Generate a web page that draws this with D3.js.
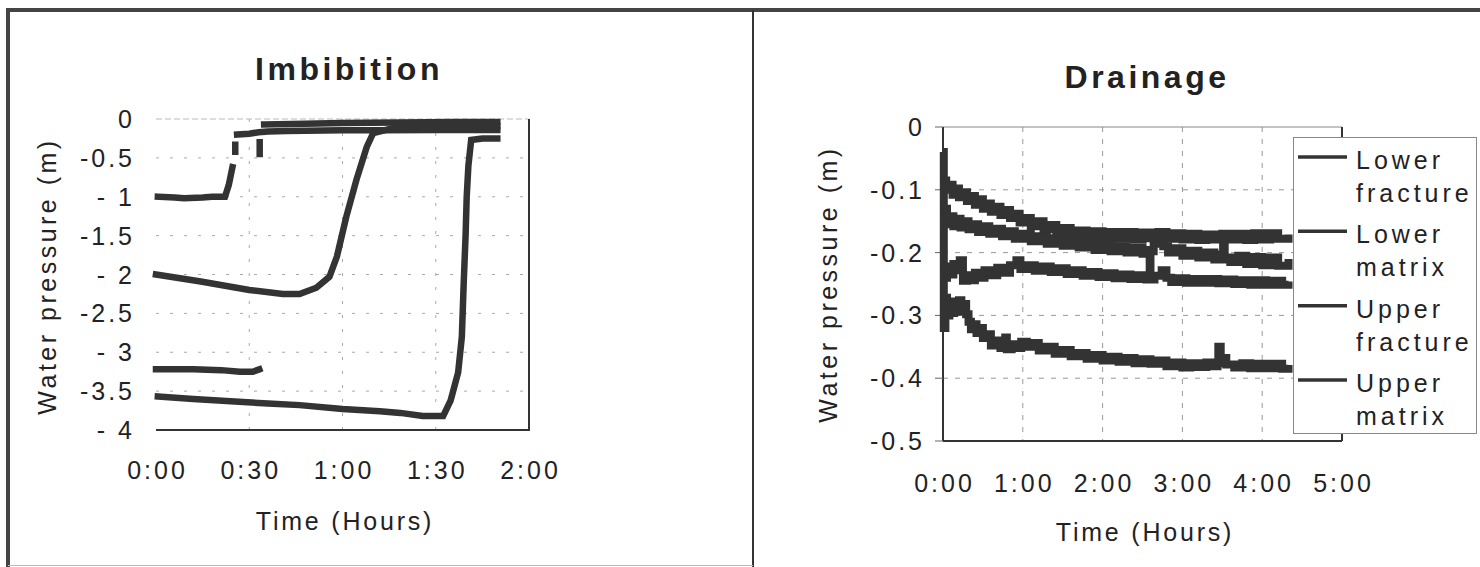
<!DOCTYPE html>
<html><head><meta charset="utf-8">
<script src="https://cdn.jsdelivr.net/npm/d3@7/dist/d3.min.js"></script>
<style>
html,body{margin:0;padding:0;background:#fff;}
svg{display:block;}
text{font-family:"Liberation Sans",Arial,Helvetica,sans-serif;fill:#222;}
</style></head>
<body>
<svg id="c" width="1480" height="567"></svg>
<script>
// ---------- DATA ----------
// Imbibition (time in hours, water pressure in m)
const imbTicksX = [0, 0.5, 1, 1.5, 2];
const imbTicksY = [0, -0.5, -1, -1.5, -2, -2.5, -3, -3.5, -4];
const imbTickLabelsY = ["0", "-0.5", "- 1", "-1.5", "- 2", "-2.5", "- 3", "-3.5", "- 4"];
const imbSeries1 = [[0.01,-1.0],[0.1,-1.01],[0.15,-1.02],[0.25,-1.01],[0.3,-1.0],[0.37,-1.0],[0.39,-0.85],[0.41,-0.62],null,[0.425,-0.42],[0.425,-0.33],null,[0.435,-0.2],[0.5,-0.19],[0.55,-0.17],[0.6,-0.16],[0.7,-0.155],[0.8,-0.15],[1.0,-0.145],[1.2,-0.145],[1.5,-0.14],[1.83,-0.14]];
const imbSeries2 = [[0,-2.0],[0.24,-2.09],[0.5,-2.2],[0.68,-2.25],[0.77,-2.25],[0.86,-2.17],[0.93,-2.03],[0.97,-1.77],[1.02,-1.26],[1.075,-0.78],[1.13,-0.36],[1.165,-0.18],[1.3,-0.1],[1.5,-0.1],[1.83,-0.09]];
const imbSeries3 = [[0,-3.22],[0.2,-3.22],[0.35,-3.23],[0.45,-3.25],[0.52,-3.25],[0.554,-3.22],null,[0.556,-0.45],[0.556,-0.3],null,[0.58,-0.07],[0.8,-0.06],[1.0,-0.05],[1.3,-0.045],[1.6,-0.04],[1.83,-0.04]];
const imbSeries4 = [[0.01,-3.57],[0.2,-3.6],[0.4,-3.63],[0.6,-3.66],[0.77,-3.68],[1.0,-3.73],[1.2,-3.76],[1.31,-3.78],[1.43,-3.82],[1.54,-3.82],[1.58,-3.62],[1.62,-3.26],[1.64,-2.8],[1.65,-2.1],[1.66,-1.5],[1.666,-1.0],[1.675,-0.6],[1.69,-0.27],[1.75,-0.25],[1.83,-0.25]];

// Drainage
const drnTicksX = [0, 1, 2, 3, 4, 5];
const drnTicksY = [0, -0.1, -0.2, -0.3, -0.4, -0.5];
const drnTickLabelsY = ["0", "-0.1", "-0.2", "-0.3", "-0.4", "-0.5"];
const legendNames = [["Lower","fracture"],["Lower","matrix"],["Upper","fracture"],["Upper","matrix"]];
const lowerFracture = [[0,-0.085],[0.04,-0.1],[0.08,-0.092],[0.12,-0.108],[0.16,-0.098],[0.2,-0.112],[0.25,-0.104],[0.3,-0.118],[0.35,-0.11],[0.4,-0.124],[0.45,-0.115],[0.5,-0.13],[0.55,-0.122],[0.6,-0.135],[0.66,-0.127],[0.72,-0.14],[0.78,-0.132],[0.84,-0.145],[0.9,-0.138],[0.96,-0.152],[1.02,-0.145],[1.1,-0.158],[1.18,-0.15],[1.26,-0.163],[1.34,-0.156],[1.42,-0.168],[1.5,-0.161],[1.6,-0.172],[1.7,-0.165],[1.8,-0.175],[1.9,-0.166],[2.0,-0.177],[2.1,-0.167],[2.2,-0.178],[2.3,-0.167],[2.4,-0.179],[2.5,-0.168],[2.6,-0.177],[2.7,-0.167],[2.8,-0.178],[2.9,-0.169],[3.0,-0.179],[3.1,-0.17],[3.2,-0.18],[3.3,-0.171],[3.4,-0.179],[3.5,-0.17],[3.6,-0.179],[3.7,-0.17],[3.8,-0.18],[3.9,-0.169],[4.0,-0.179],[4.1,-0.169],[4.2,-0.178],[4.33,-0.171]];
const lowerMatrix = [[0.02,-0.13],[0.05,-0.155],[0.09,-0.142],[0.13,-0.158],[0.17,-0.146],[0.22,-0.16],[0.27,-0.15],[0.32,-0.163],[0.38,-0.155],[0.44,-0.167],[0.5,-0.158],[0.58,-0.17],[0.66,-0.162],[0.74,-0.174],[0.82,-0.166],[0.9,-0.178],[1.0,-0.17],[1.1,-0.182],[1.2,-0.174],[1.3,-0.186],[1.4,-0.177],[1.5,-0.189],[1.6,-0.18],[1.7,-0.192],[1.8,-0.183],[1.9,-0.196],[2.0,-0.186],[2.1,-0.198],[2.2,-0.19],[2.3,-0.2],[2.4,-0.192],[2.5,-0.202],[2.58,-0.196],[2.59,-0.233],[2.6,-0.198],[2.64,-0.186],[2.7,-0.182],[2.76,-0.19],[2.82,-0.2],[2.9,-0.193],[3.0,-0.205],[3.1,-0.197],[3.2,-0.208],[3.3,-0.2],[3.4,-0.211],[3.5,-0.203],[3.51,-0.182],[3.53,-0.208],[3.6,-0.215],[3.7,-0.205],[3.8,-0.218],[3.9,-0.207],[4.0,-0.22],[4.1,-0.208],[4.2,-0.221],[4.33,-0.21]];
const upperFracture = [[0.02,-0.24],[0.05,-0.222],[0.09,-0.235],[0.13,-0.218],[0.17,-0.228],[0.21,-0.212],[0.25,-0.245],[0.3,-0.236],[0.35,-0.244],[0.4,-0.232],[0.46,-0.24],[0.52,-0.228],[0.6,-0.236],[0.68,-0.224],[0.76,-0.232],[0.84,-0.22],[0.92,-0.212],[0.97,-0.226],[1.05,-0.22],[1.15,-0.229],[1.25,-0.222],[1.35,-0.231],[1.45,-0.225],[1.55,-0.234],[1.65,-0.228],[1.75,-0.237],[1.85,-0.231],[1.95,-0.239],[2.05,-0.233],[2.15,-0.241],[2.25,-0.235],[2.35,-0.242],[2.45,-0.236],[2.55,-0.243],[2.65,-0.237],[2.74,-0.228],[2.8,-0.24],[2.86,-0.247],[2.95,-0.241],[3.05,-0.248],[3.15,-0.242],[3.25,-0.248],[3.35,-0.242],[3.45,-0.249],[3.55,-0.243],[3.65,-0.25],[3.75,-0.244],[3.85,-0.251],[3.95,-0.244],[4.05,-0.251],[4.15,-0.245],[4.25,-0.251],[4.33,-0.246]];
const upperMatrix = [[0,-0.04],[0.01,-0.32],[0.03,-0.272],[0.05,-0.3],[0.08,-0.278],[0.11,-0.296],[0.14,-0.28],[0.17,-0.294],[0.2,-0.276],[0.23,-0.29],[0.26,-0.282],[0.29,-0.298],[0.32,-0.31],[0.35,-0.322],[0.38,-0.314],[0.42,-0.328],[0.46,-0.32],[0.5,-0.336],[0.55,-0.33],[0.6,-0.348],[0.66,-0.34],[0.72,-0.352],[0.76,-0.344],[0.78,-0.335],[0.8,-0.354],[0.86,-0.346],[0.92,-0.352],[0.98,-0.342],[1.05,-0.35],[1.12,-0.344],[1.2,-0.356],[1.3,-0.35],[1.4,-0.361],[1.5,-0.355],[1.6,-0.365],[1.7,-0.36],[1.8,-0.369],[1.9,-0.363],[2.0,-0.372],[2.1,-0.366],[2.2,-0.374],[2.3,-0.368],[2.4,-0.376],[2.5,-0.37],[2.6,-0.377],[2.7,-0.372],[2.8,-0.381],[2.9,-0.375],[3.0,-0.383],[3.1,-0.376],[3.2,-0.382],[3.3,-0.375],[3.4,-0.381],[3.44,-0.376],[3.45,-0.35],[3.48,-0.368],[3.55,-0.378],[3.65,-0.383],[3.75,-0.376],[3.85,-0.384],[3.95,-0.377],[4.05,-0.384],[4.15,-0.377],[4.25,-0.385],[4.33,-0.379]];

// ---------- DRAW ----------
const svg = d3.select("#c");
const INK = "#333";
const TICK_FS = 25, TICK_LS = 3;
const fmtTime = h => { const H = Math.floor(h); const m = Math.round((h - H) * 60); return H + ":" + String(m).padStart(2, "0"); };

const frame = svg.append("g");
frame.append("line").attr("x1",6).attr("x2",1480).attr("y1",10).attr("y2",10).attr("stroke","#444").attr("stroke-width",4);
frame.append("line").attr("x1",8).attr("x2",8).attr("y1",8).attr("y2",567).attr("stroke","#444").attr("stroke-width",4);
frame.append("line").attr("x1",753).attr("x2",753).attr("y1",10).attr("y2",567).attr("stroke","#333").attr("stroke-width",2);
frame.append("line").attr("x1",8).attr("x2",753).attr("y1",565.5).attr("y2",565.5).attr("stroke","#bbb").attr("stroke-width",1);

function axisText(g, x, y, txt, opts) {
  const t = g.append("text").attr("x", x).attr("y", y).text(txt)
    .attr("font-size", opts.size || TICK_FS).attr("letter-spacing", opts.ls == null ? 3 : opts.ls)
    .attr("text-anchor", opts.anchor || "middle");
  if (opts.weight) t.attr("font-weight", opts.weight);
  if (opts.rotate) t.attr("transform", `rotate(-90 ${x} ${y})`);
  return t;
}

// ===== Imbibition =====
{
  const g = svg.append("g");
  const x = d3.scaleLinear().domain([0, 2]).range([156, 529]);
  const y = d3.scaleLinear().domain([-4, 0]).range([430, 119]);
  g.selectAll(".gy").data(imbTicksY.filter(v => v < 0 && v > -4)).join("line")
    .attr("x1", x(0)).attr("x2", x(2)).attr("y1", d => y(d)).attr("y2", d => y(d))
    .attr("stroke", "#aaa").attr("stroke-width", 1).attr("stroke-dasharray", "3,11");
  g.selectAll(".gx").data(imbTicksX.filter(v => v > 0 && v < 2)).join("line")
    .attr("x1", d => x(d)).attr("x2", d => x(d)).attr("y1", y(0)).attr("y2", y(-4))
    .attr("stroke", "#aaa").attr("stroke-width", 1).attr("stroke-dasharray", "3,11");
  g.append("line").attr("x1", x(0)).attr("x2", x(2)).attr("y1", y(0)).attr("y2", y(0))
    .attr("stroke", "#bbb").attr("stroke-width", 1).attr("stroke-dasharray", "6,3");
  g.append("line").attr("x1", x(0)).attr("x2", x(2) + 1).attr("y1", y(-4)).attr("y2", y(-4)).attr("stroke", INK).attr("stroke-width", 2);
  g.append("line").attr("x1", x(2)).attr("x2", x(2)).attr("y1", y(0)).attr("y2", y(-4)).attr("stroke", INK).attr("stroke-width", 2);
  g.selectAll(".yl").data(imbTicksY).join("text")
    .attr("x", 135).attr("y", d => y(d) + 9).text((d, i) => imbTickLabelsY[i])
    .attr("font-size", TICK_FS).attr("letter-spacing", TICK_LS).attr("text-anchor", "end");
  g.selectAll(".xl").data(imbTicksX).join("text")
    .attr("x", d => x(d) + 1.5).attr("y", 479).text(d => fmtTime(d))
    .attr("font-size", TICK_FS).attr("letter-spacing", TICK_LS).attr("text-anchor", "middle");
  axisText(g, 349, 80, "Imbibition", {size: 32, weight: "bold", ls: 3.5});
  axisText(g, 345, 530, "Time (Hours)", {size: 25, ls: 2.8});
  axisText(g, 56, 276, "Water pressure (m)", {size: 25, ls: 3.5, rotate: true});
  const line = d3.line().defined(d => d !== null).x(d => x(d[0])).y(d => y(d[1]));
  [imbSeries1, imbSeries2, imbSeries3, imbSeries4].forEach(s => {
    g.append("path").attr("d", line(s)).attr("fill", "none").attr("stroke", INK)
      .attr("stroke-width", 6.5).attr("stroke-linejoin", "miter").attr("stroke-linecap", "square");
  });
}

// ===== Drainage =====
{
  const g = svg.append("g");
  const x = d3.scaleLinear().domain([0, 5]).range([943, 1342]);
  const y = d3.scaleLinear().domain([-0.5, 0]).range([441, 127]);
  g.selectAll(".gy").data(drnTicksY.filter(v => v < 0 && v > -0.5)).join("line")
    .attr("x1", x(0)).attr("x2", x(5)).attr("y1", d => y(d)).attr("y2", d => y(d))
    .attr("stroke", "#999").attr("stroke-width", 1).attr("stroke-dasharray", "5,7");
  g.selectAll(".gx").data(drnTicksX.filter(v => v > 0 && v < 5)).join("line")
    .attr("x1", d => x(d)).attr("x2", d => x(d)).attr("y1", y(0)).attr("y2", y(-0.5))
    .attr("stroke", "#999").attr("stroke-width", 1).attr("stroke-dasharray", "5,7");
  g.append("line").attr("x1", x(0)).attr("x2", x(5)).attr("y1", y(0)).attr("y2", y(0)).attr("stroke", "#888").attr("stroke-width", 1.2);
  g.append("line").attr("x1", x(0)).attr("x2", x(0)).attr("y1", y(0)).attr("y2", y(-0.5)).attr("stroke", INK).attr("stroke-width", 2);
  g.append("line").attr("x1", x(0)).attr("x2", x(5)).attr("y1", y(-0.5)).attr("y2", y(-0.5)).attr("stroke", INK).attr("stroke-width", 2);
  g.append("line").attr("x1", x(5)).attr("x2", x(5)).attr("y1", y(0)).attr("y2", y(-0.5)).attr("stroke", INK).attr("stroke-width", 2);
  g.selectAll(".tk").data(drnTicksY).join("line")
    .attr("x1", x(0) - 8).attr("x2", x(0)).attr("y1", d => y(d)).attr("y2", d => y(d))
    .attr("stroke", "#666").attr("stroke-width", 1);
  g.selectAll(".yl").data(drnTicksY).join("text")
    .attr("x", 925).attr("y", d => y(d) + 9).text((d, i) => drnTickLabelsY[i])
    .attr("font-size", TICK_FS).attr("letter-spacing", TICK_LS).attr("text-anchor", "end");
  g.selectAll(".xl").data(drnTicksX).join("text")
    .attr("x", d => x(d) + 1.5).attr("y", 492).text(d => fmtTime(d))
    .attr("font-size", TICK_FS).attr("letter-spacing", TICK_LS).attr("text-anchor", "middle");
  axisText(g, 1147, 88, "Drainage", {size: 32, weight: "bold", ls: 3.5});
  axisText(g, 1145, 541, "Time (Hours)", {size: 25, ls: 2.8});
  axisText(g, 837, 284, "Water pressure (m)", {size: 25, ls: 3.5, rotate: true});
  const line = d3.line().x(d => x(d[0])).y(d => y(d[1])).curve(d3.curveStepAfter);
  [upperMatrix, upperFracture, lowerMatrix, lowerFracture].forEach(s => {
    g.append("path").attr("d", line(s)).attr("fill", "none").attr("stroke", INK)
      .attr("stroke-width", 8).attr("stroke-linejoin", "miter");
  });
  const lg = g.append("g");
  lg.append("rect").attr("x", 1293.5).attr("y", 137.5).attr("width", 183).attr("height", 296)
    .attr("fill", "#fff").attr("stroke", "#888").attr("stroke-width", 1);
  const ly = d3.scalePoint().domain(d3.range(legendNames.length)).range([157, 380]);
  legendNames.forEach((nm, i) => {
    lg.append("line").attr("x1", 1298).attr("x2", 1347).attr("y1", ly(i)).attr("y2", ly(i))
      .attr("stroke", INK).attr("stroke-width", 3.5);
    lg.append("text").attr("x", 1356).attr("y", ly(i) + 12).text(nm[0]).attr("font-size", 25).attr("letter-spacing", 4);
    lg.append("text").attr("x", 1356).attr("y", ly(i) + 45).text(nm[1]).attr("font-size", 25).attr("letter-spacing", 4);
  });
}
</script>
</body></html>
